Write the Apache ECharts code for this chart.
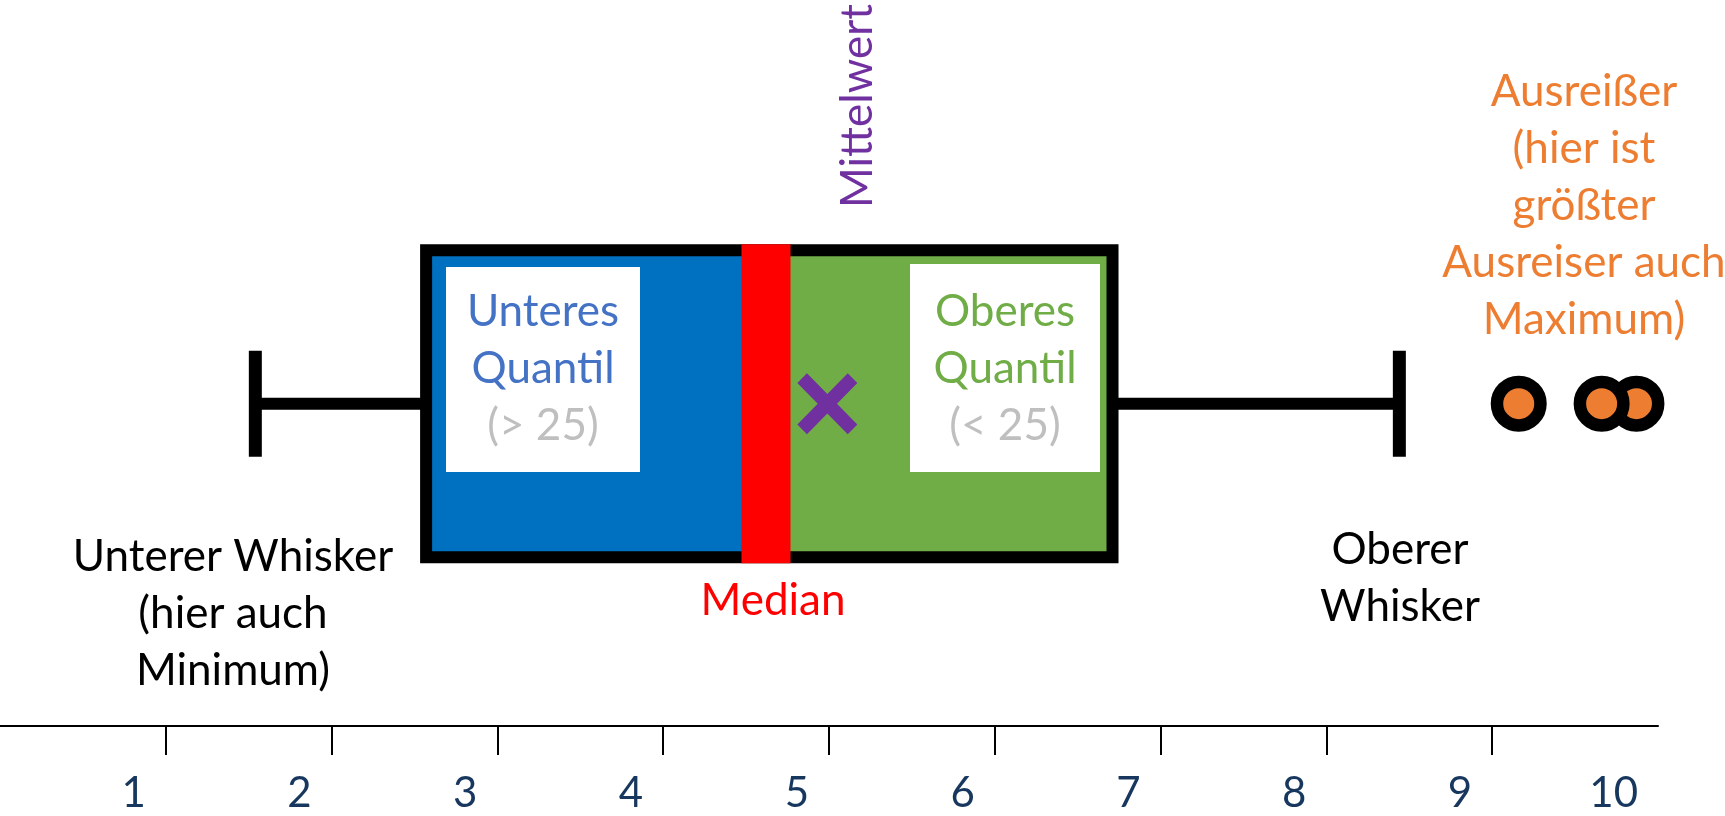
<!DOCTYPE html>
<html>
<head>
<meta charset="utf-8">
<title>Boxplot</title>
<script src="https://cdn.jsdelivr.net/npm/echarts@6/dist/echarts.min.js"></script>
<style>
  html, body { margin: 0; padding: 0; background: #fff; }
  #chart { width: 1725px; height: 816px; }
</style>
</head>
<body>
<div id="chart"></div>
<script>
// Achse: Striche und Beschriftungen
var tickValues = [1, 2, 3, 4, 5, 6, 7, 8, 9];
var labelValues = [1, 2, 3, 4, 5, 6, 7, 8, 9, 10];
var tickLabels = ["1", "2", "3", "4", "5", "6", "7", "8", "9", "10"];

// unterer Whisker, unteres Quartil, Median, oberes Quartil, oberer Whisker
var boxStats = [1.54, 2.57, 4.62, 6.71, 8.44];
var meanValue = [4.99];
// Reihenfolge = Zeichenreihenfolge (der zweite Punkt liegt über dem dritten)
var outliers = [9.16, 9.87, 9.66];

var ROW_Y = 0.444; // Höhe der Box auf der (unsichtbaren) y-Achse
var FONT = "Lato, 'Noto Sans', sans-serif";

var chart = echarts.init(document.getElementById("chart"));

function renderBox(params, api) {
  var px = [0, 1, 2, 3, 4].map(function (i) {
    return api.coord([api.value(i), ROW_Y])[0];
  });
  var cy = api.coord([0, ROW_Y])[1];
  var half = 153.5;
  var capHalf = 53;
  var black = "#000";
  return {
    type: "group",
    children: [
      { type: "line", shape: { x1: px[0], y1: cy, x2: px[1], y2: cy }, style: { stroke: black, lineWidth: 12 } },
      { type: "line", shape: { x1: px[3], y1: cy, x2: px[4], y2: cy }, style: { stroke: black, lineWidth: 12 } },
      { type: "line", shape: { x1: px[0], y1: cy - capHalf, x2: px[0], y2: cy + capHalf }, style: { stroke: black, lineWidth: 13 } },
      { type: "line", shape: { x1: px[4], y1: cy - capHalf, x2: px[4], y2: cy + capHalf }, style: { stroke: black, lineWidth: 13 } },
      { type: "rect", shape: { x: px[1], y: cy - half, width: px[2] - px[1], height: half * 2 }, style: { fill: "#0070C0" } },
      { type: "rect", shape: { x: px[2], y: cy - half, width: px[3] - px[2], height: half * 2 }, style: { fill: "#70AD47" } },
      { type: "rect", shape: { x: px[1], y: cy - half, width: px[3] - px[1], height: half * 2 }, style: { fill: null, stroke: black, lineWidth: 12 } },
      { type: "rect", shape: { x: px[2] - 24.5, y: cy - half - 6, width: 49, height: half * 2 + 12 }, style: { fill: "#FF0000" } }
    ]
  };
}

var option = {
  animation: false,
  backgroundColor: "#fff",
  grid: { left: 0, right: 67, top: 0, bottom: 90, containLabel: false, outerBoundsMode: "none" },
  xAxis: {
    type: "value",
    min: 0,
    max: 10,
    interval: 1,
    axisLine: { show: true, onZero: false, lineStyle: { color: "#000", width: 2 } },
    axisTick: { show: true, length: 29, customValues: tickValues, lineStyle: { color: "#000", width: 2 } },
    axisLabel: {
      customValues: labelValues,
      formatter: function (v) { return tickLabels[labelValues.indexOf(v)]; },
      align: "right",
      padding: [0, 20, 0, 0],
      margin: 46,
      color: "#17375E",
      fontSize: 42,
      fontFamily: FONT
    },
    splitLine: { show: false }
  },
  yAxis: { type: "value", min: 0, max: 1, show: false },
  series: [
    {
      type: "custom",
      name: "Box",
      renderItem: renderBox,
      encode: { x: [0, 1, 2, 3, 4], y: 5 },
      data: [boxStats.concat([ROW_Y])],
      silent: true,
      z: 2
    },
    {
      type: "scatter",
      name: "Mittelwert",
      data: meanValue.map(function (v) { return [v, ROW_Y]; }),
      symbol: "path://M0,16 L16,0 L50,34 L84,0 L100,16 L66,50 L100,84 L84,100 L50,66 L16,100 L0,84 L34,50 Z",
      symbolSize: [60, 61],
      itemStyle: { color: "#7030A0", opacity: 1 },
      silent: true,
      z: 5
    },
    {
      type: "scatter",
      name: "Ausreißer",
      data: outliers.map(function (v) { return [v, ROW_Y]; }),
      symbol: "circle",
      symbolSize: 43.5,
      itemStyle: { color: "#ED7D31", borderColor: "#000", borderWidth: 12.5, opacity: 1 },
      silent: true,
      z: 5
    }
  ],
  graphic: [
    { type: "rect", z: 100, shape: { x: 446, y: 267, width: 194, height: 205 }, style: { fill: "#fff" } },
    { type: "rect", z: 100, shape: { x: 910, y: 264, width: 190, height: 208 }, style: { fill: "#fff" } },
    {
      type: "text", z: 101, x: 543, y: 369,
      style: {
        text: "{a|Unteres}\n{a|Quantil}\n{b|(> 25)}",
        align: "center", verticalAlign: "middle",
        rich: {
          a: { fill: "#4472C4", fontSize: 44, lineHeight: 57, fontFamily: FONT, align: "center" },
          b: { fill: "#BFBFBF", fontSize: 44, lineHeight: 57, fontFamily: FONT, align: "center" }
        }
      }
    },
    {
      type: "text", z: 101, x: 1005, y: 369,
      style: {
        text: "{a|Oberes}\n{a|Quantil}\n{b|(< 25)}",
        align: "center", verticalAlign: "middle",
        rich: {
          a: { fill: "#70AD47", fontSize: 44, lineHeight: 57, fontFamily: FONT, align: "center" },
          b: { fill: "#BFBFBF", fontSize: 44, lineHeight: 57, fontFamily: FONT, align: "center" }
        }
      }
    },
    {
      type: "text", z: 101, x: 233, y: 614,
      style: { text: "Unterer Whisker\n(hier auch\nMinimum)", fill: "#000", fontSize: 44, lineHeight: 57, fontFamily: FONT, align: "center", verticalAlign: "middle" }
    },
    {
      type: "text", z: 101, x: 1400, y: 578,
      style: { text: "Oberer\nWhisker", fill: "#000", fontSize: 44, lineHeight: 57, fontFamily: FONT, align: "center", verticalAlign: "middle" }
    },
    {
      type: "text", z: 101, x: 773, y: 601,
      style: { text: "Median", fill: "#FF0000", fontSize: 44, fontFamily: FONT, align: "center", verticalAlign: "middle" }
    },
    {
      type: "text", z: 101, x: 858, y: 106, rotation: Math.PI / 2,
      style: { text: "Mittelwert", fill: "#7030A0", fontSize: 44, fontFamily: FONT, align: "center", verticalAlign: "middle" }
    },
    {
      type: "text", z: 101, x: 1584, y: 206,
      style: { text: "Ausreißer\n(hier ist\ngrößter\nAusreiser auch\nMaximum)", fill: "#ED7D31", fontSize: 44, lineHeight: 57, fontFamily: FONT, align: "center", verticalAlign: "middle" }
    }
  ]
};

chart.setOption(option);
</script>
</body>
</html>
